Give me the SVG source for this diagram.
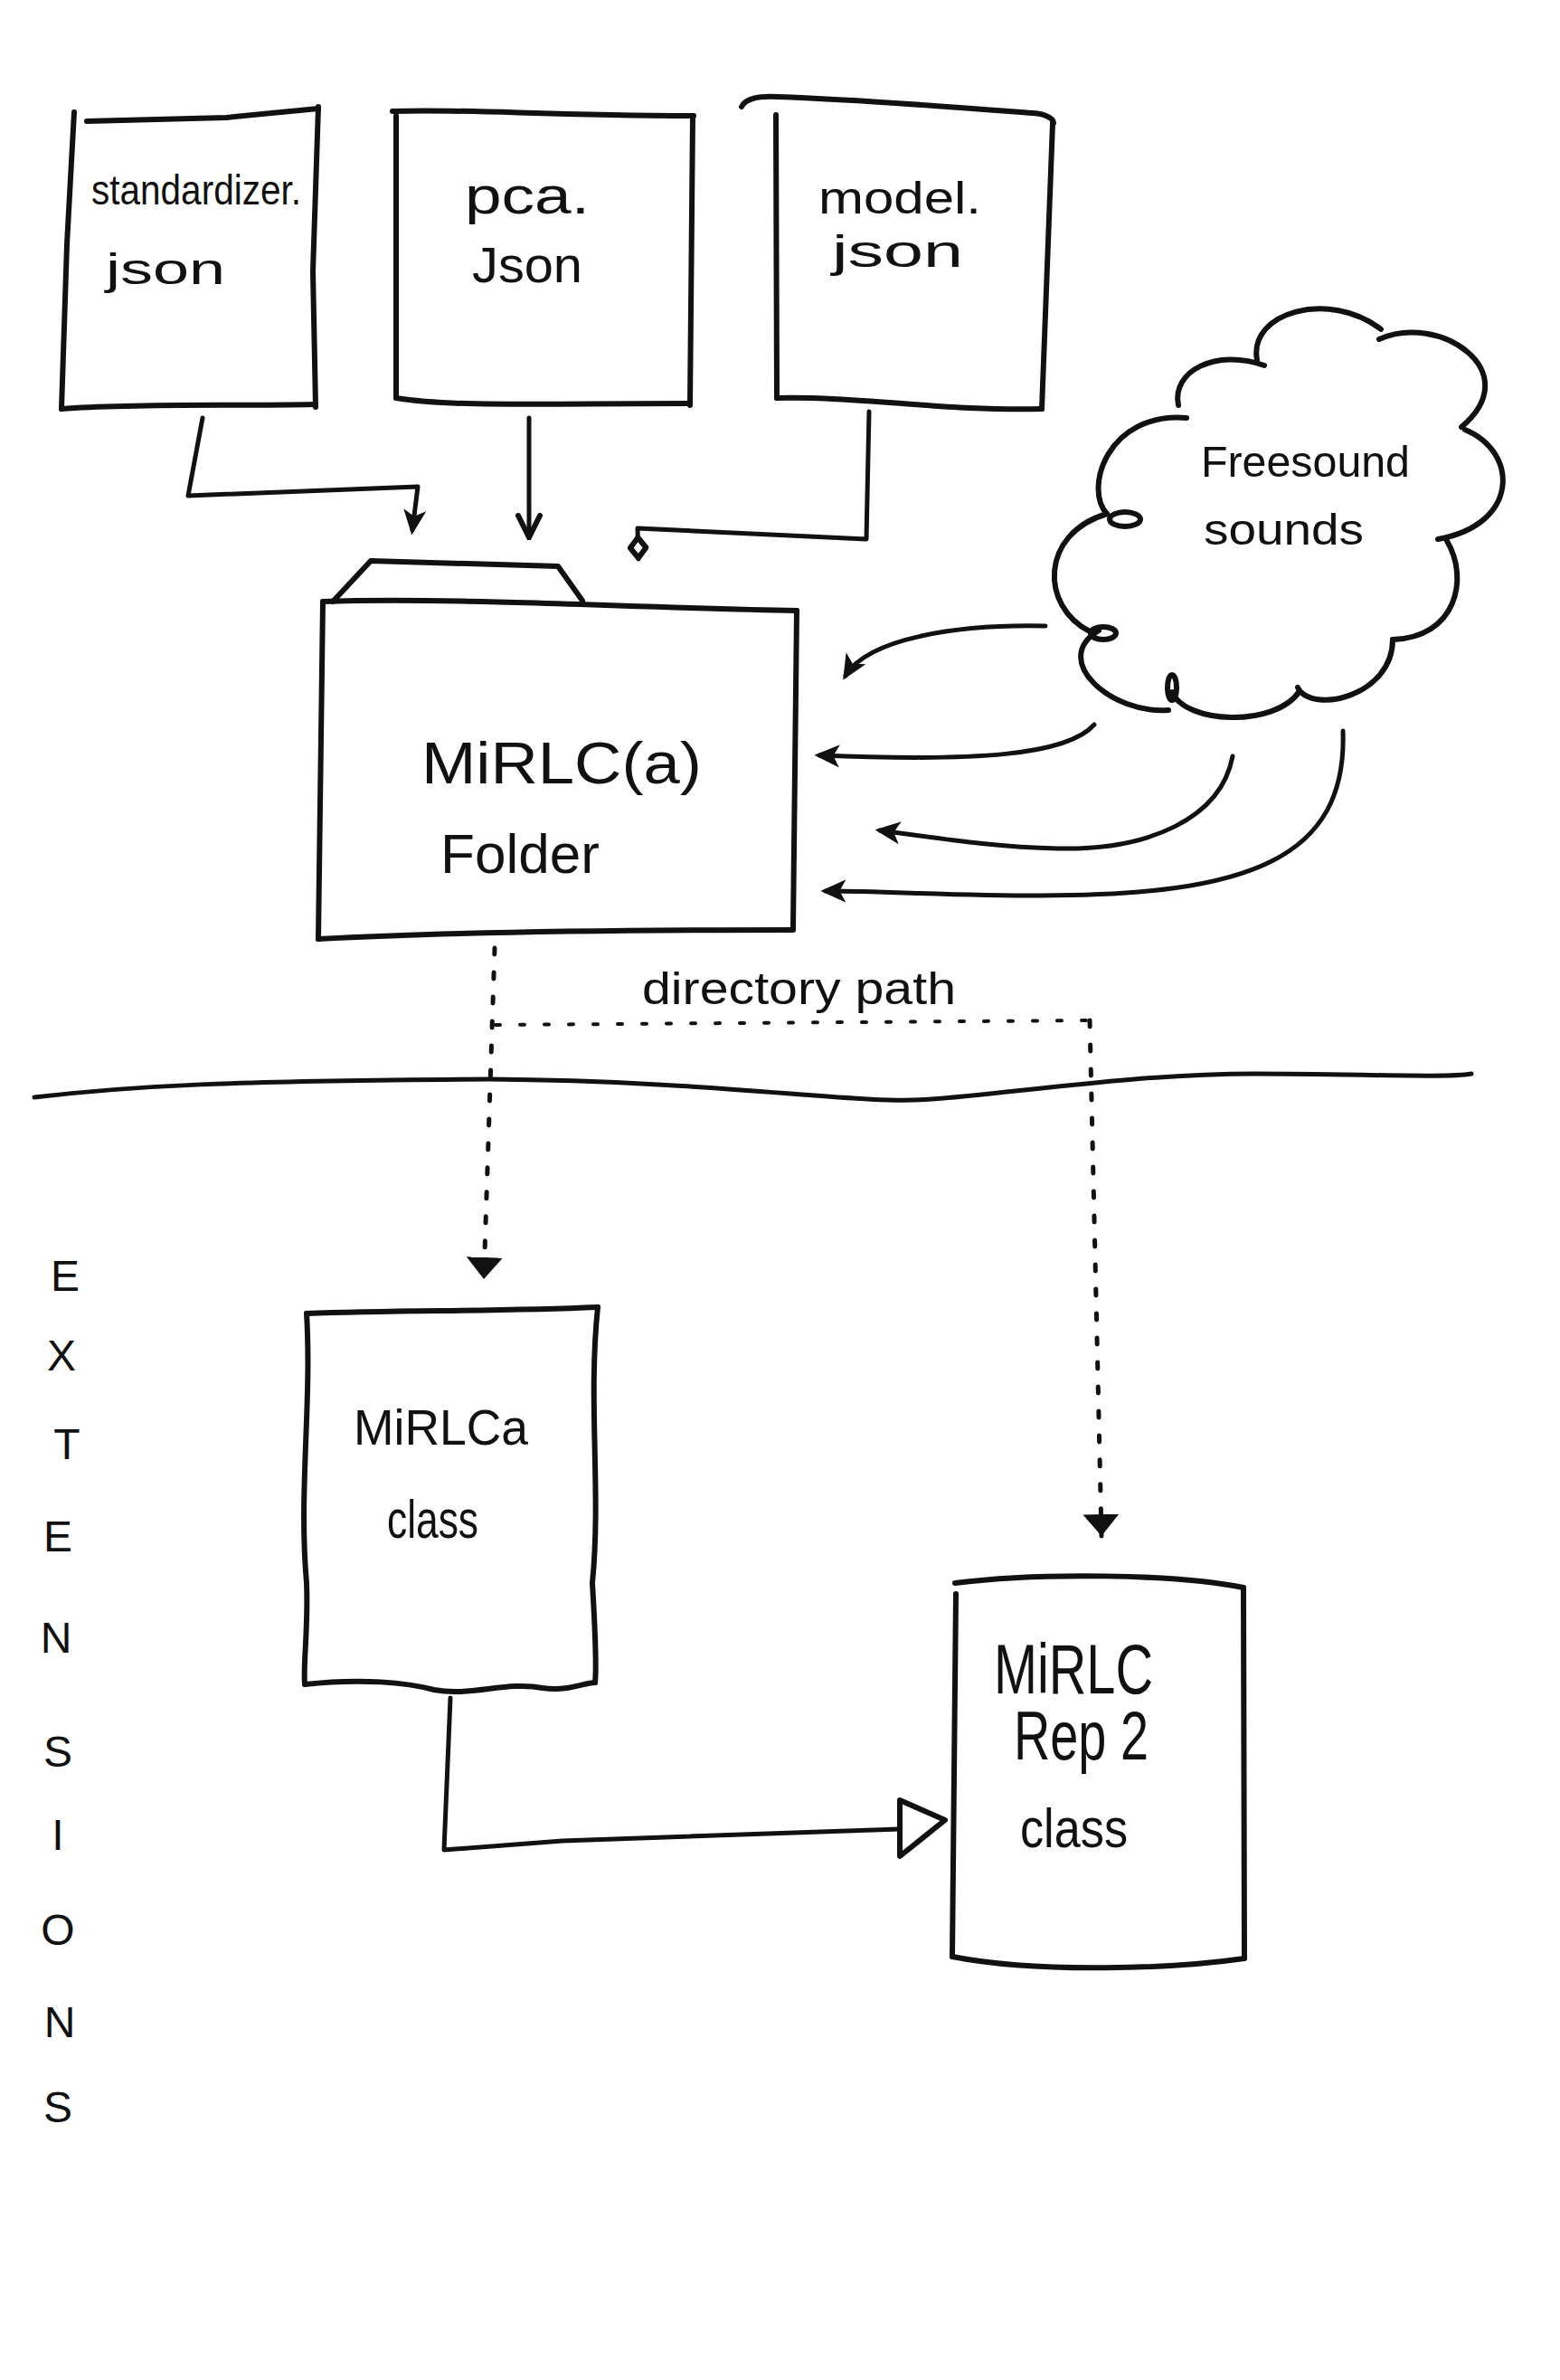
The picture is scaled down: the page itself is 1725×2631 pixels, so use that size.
<svg xmlns="http://www.w3.org/2000/svg" width="1725" height="2631" viewBox="0 0 1725 2631">
<style>
.ln{fill:none;stroke:#111;stroke-width:6;stroke-linecap:round;stroke-linejoin:round}
.cn{fill:none;stroke:#111;stroke-width:5;stroke-linecap:round;stroke-linejoin:round}
.dot{fill:none;stroke:#111;stroke-width:5;stroke-linecap:round;stroke-dasharray:7 20}
.dot2{fill:none;stroke:#111;stroke-width:4;stroke-linecap:round;stroke-dasharray:5 22}
.t{font-family:"Liberation Sans","DejaVu Sans",sans-serif;fill:#111}
</style>
<defs>
<marker id="af" viewBox="0 0 10 10" refX="8" refY="5" markerWidth="28" markerHeight="28" markerUnits="userSpaceOnUse" orient="auto">
<path d="M0,0.5 L10,5 L0,9.5 L2.5,5 z" fill="#111"/>
</marker>
<marker id="av" viewBox="0 0 10 10" refX="9" refY="5" markerWidth="30" markerHeight="30" markerUnits="userSpaceOnUse" orient="auto">
<path d="M1,1 L9,5 L1,9" fill="none" stroke="#111" stroke-width="2" stroke-linecap="round"/>
</marker>
<marker id="ad" viewBox="0 0 12 10" refX="11" refY="5" markerWidth="30" markerHeight="26" markerUnits="userSpaceOnUse" orient="auto">
<path d="M1.5,5 L6,1.5 L10.5,5 L6,8.5 z" fill="#fff" stroke="#111" stroke-width="2.4" stroke-linejoin="round"/>
</marker>
<marker id="at" viewBox="0 0 10 10" refX="6" refY="5" markerWidth="40" markerHeight="40" markerUnits="userSpaceOnUse" orient="auto">
<path d="M0,0 L6,5 L0,10 z" fill="#111"/>
</marker>
</defs>
<rect width="1725" height="2631" fill="#fff"/>

<g id="node-standardizer">
<path class="ln" d="M82,124 L74,270 L68,452"/>
<path class="ln" d="M96,134 L250,130 L352,120"/>
<path class="ln" d="M352,118 L346,300 L349,450"/>
<path class="ln" d="M68,452 C150,446 250,449 349,447"/>
<text class="t" x="101" y="226" font-size="46" textLength="232" lengthAdjust="spacingAndGlyphs">standardizer.</text>
<text class="t" x="117" y="314" font-size="48" textLength="132" lengthAdjust="spacingAndGlyphs">json</text>
</g>

<g id="node-pca">
<path class="ln" d="M434,123 C520,120 600,128 767,128"/>
<path class="ln" d="M438,128 L438,440"/>
<path class="ln" d="M766,128 L763,448"/>
<path class="ln" d="M438,440 C500,450 600,446 763,446"/>
<text class="t" x="514" y="236" font-size="58" textLength="138" lengthAdjust="spacingAndGlyphs">pca.</text>
<text class="t" x="522" y="312" font-size="56" textLength="122" lengthAdjust="spacingAndGlyphs">Json</text>
</g>

<g id="node-model">
<path class="ln" d="M820,118 C825,108 840,106 860,107 C950,110 1050,118 1142,125 C1158,126 1165,132 1165,136"/>
<path class="ln" d="M858,127 L859,440"/>
<path class="ln" d="M1164,136 L1152,452"/>
<path class="ln" d="M859,440 C950,438 1050,455 1152,452"/>
<text class="t" x="905" y="236" font-size="50" textLength="180" lengthAdjust="spacingAndGlyphs">model.</text>
<text class="t" x="920" y="295" font-size="50" textLength="145" lengthAdjust="spacingAndGlyphs">json</text>
</g>

<g id="node-cloud">
<path class="ln" d="M1224,568 C1198,540 1225,455 1312,462"/>
<path class="ln" d="M1303,448 C1295,410 1345,385 1398,404"/>
<path class="ln" d="M1390,398 C1380,345 1470,320 1527,364"/>
<path class="ln" d="M1525,375 C1590,345 1690,410 1616,472"/>
<path class="ln" d="M1620,475 C1680,500 1680,580 1590,596"/>
<path class="ln" d="M1600,598 C1625,640 1610,705 1540,707"/>
<path class="ln" d="M1540,707 C1540,770 1450,790 1435,760"/>
<path class="ln" d="M1437,764 C1410,805 1310,800 1296,765"/>
<path class="ln" d="M1292,785 C1230,790 1160,730 1215,697"/>
<path class="ln" d="M1205,698 C1150,670 1150,590 1224,568"/>
<ellipse class="ln" cx="1244" cy="574" rx="17" ry="8" stroke-width="5"/>
<ellipse class="ln" cx="1220" cy="700" rx="14" ry="7" stroke-width="5"/>
<ellipse class="ln" cx="1296" cy="760" rx="5" ry="14" stroke-width="5"/>
<text class="t" x="1328" y="527" font-size="48" textLength="231" lengthAdjust="spacingAndGlyphs">Freesound</text>
<text class="t" x="1331" y="602" font-size="48" textLength="177" lengthAdjust="spacingAndGlyphs">sounds</text>
</g>

<g id="node-folder">
<path class="ln" d="M368,665 L410,620 L617,626 L644,664"/>
<path class="ln" d="M357,665 C500,660 700,672 881,675"/>
<path class="ln" d="M357,665 L352,1038"/>
<path class="ln" d="M881,675 L877,1026"/>
<path class="ln" d="M352,1038 C500,1030 700,1028 877,1028"/>
<text class="t" x="466" y="866" font-size="64" textLength="310" lengthAdjust="spacingAndGlyphs">MiRLC(a)</text>
<text class="t" x="487" y="965" font-size="62" textLength="176" lengthAdjust="spacingAndGlyphs">Folder</text>
</g>

<g id="divider">
<path class="cn" d="M38,1213 C150,1200 250,1195 542,1193 C800,1195 950,1222 1030,1215 C1110,1210 1250,1187 1388,1187 C1500,1187 1600,1192 1627,1187"/>
</g>

<g id="node-mirlca">
<path class="ln" d="M339,1452 C450,1448 550,1450 661,1445"/>
<path class="ln" d="M339,1452 C345,1550 330,1650 339,1750 C341,1800 335,1840 337,1862"/>
<path class="ln" d="M661,1445 C650,1550 665,1650 655,1750 C658,1800 660,1840 658,1860"/>
<path class="ln" d="M337,1862 C400,1855 450,1860 480,1868 C520,1876 560,1858 600,1866 C630,1870 645,1860 658,1860"/>
<text class="t" x="391" y="1597" font-size="56" textLength="193" lengthAdjust="spacingAndGlyphs">MiRLCa</text>
<text class="t" x="428" y="1700" font-size="60" textLength="101" lengthAdjust="spacingAndGlyphs">class</text>
</g>

<g id="node-mirlcrep2">
<path class="ln" d="M1056,1750 C1150,1738 1300,1740 1375,1755"/>
<path class="ln" d="M1057,1762 L1053,2163"/>
<path class="ln" d="M1375,1755 L1376,2165"/>
<path class="ln" d="M1053,2163 C1150,2182 1300,2176 1376,2165"/>
<text class="t" x="1099" y="1872" font-size="78" textLength="176" lengthAdjust="spacingAndGlyphs">MiRLC</text>
<text class="t" x="1121" y="1945" font-size="76" textLength="149" lengthAdjust="spacingAndGlyphs">Rep 2</text>
<text class="t" x="1128" y="2042" font-size="62" textLength="119" lengthAdjust="spacingAndGlyphs">class</text>
</g>

<g id="label-extensions" class="t" font-size="48" text-anchor="middle">
<text x="72" y="1427">E</text>
<text x="68" y="1515">X</text>
<text x="74" y="1613">T</text>
<text x="64" y="1715">E</text>
<text x="62" y="1827">N</text>
<text x="64" y="1953">S</text>
<text x="64" y="2045">I</text>
<text x="64" y="2150">O</text>
<text x="66" y="2252">N</text>
<text x="64" y="2346">S</text>
</g>

<g id="connectors">
<path class="cn" d="M224,462 L208,548 L462,538 L456,586" marker-end="url(#af)"/>
<path class="cn" d="M585,462 L585,594" marker-end="url(#av)"/>
<path class="cn" d="M961,455 L958,596 L705,584 L706,618" marker-end="url(#ad)"/>
<path class="cn" d="M1156,692 C1060,690 960,705 935,747" marker-end="url(#af)"/>
<path class="cn" d="M1210,801 C1180,835 1080,842 906,835" marker-end="url(#af)"/>
<path class="cn" d="M1363,836 C1350,905 1270,940 1170,938 C1090,936 1030,925 973,918" marker-end="url(#af)"/>
<path class="cn" d="M1485,808 C1490,950 1380,990 1150,990 C1050,990 980,985 913,985" marker-end="url(#af)"/>
<path class="dot" d="M547,1048 L535,1414" marker-end="url(#at)"/>
<path class="dot2" d="M548,1133 L1204,1128"/>
<path class="dot" d="M1205,1128 L1218,1698" marker-end="url(#at)"/>
<text class="t" x="710" y="1110" font-size="50" textLength="347" lengthAdjust="spacingAndGlyphs">directory path</text>
<path class="cn" d="M498,1877 L491,2045 L622,2035 L994,2022"/>
<polygon points="995,1990 1045,2012 995,2052" fill="#fff" stroke="#111" stroke-width="6" stroke-linejoin="round"/>
</g>
</svg>
